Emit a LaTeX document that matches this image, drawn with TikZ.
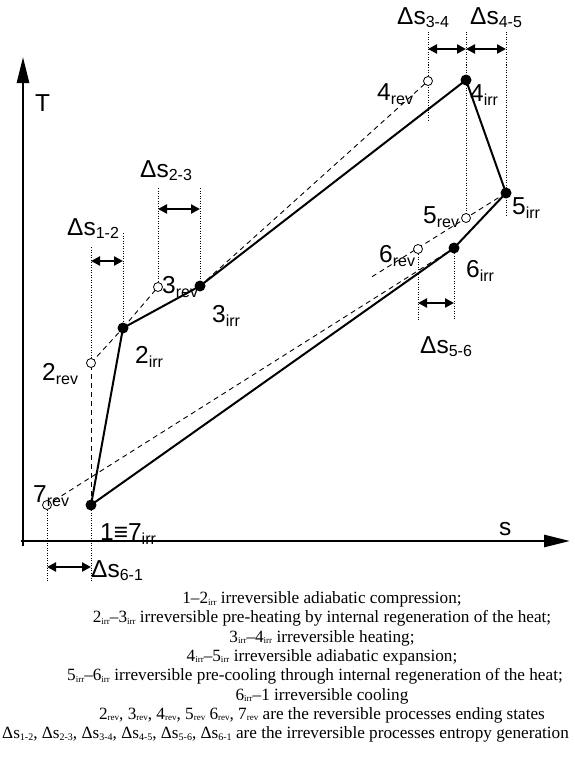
\documentclass[tikz,border=0pt]{standalone}
\usepackage{fontspec}
\setmainfont{Liberation Serif}
\newfontfamily\lsans{Liberation Sans}
\usetikzlibrary{arrows.meta}

\newcommand{\Lab}[2]{{\lsans\fontsize{24.5}{24.5}\selectfont #1\raisebox{-4pt}{\fontsize{16}{16}\selectfont #2}}}
\newcommand{\Dlab}[1]{{\lsans\fontsize{24.5}{24.5}\selectfont Δs\raisebox{-3pt}{\fontsize{16}{16}\selectfont #1}}}
\newcommand{\ci}{\raisebox{-1.5pt}{\fontsize{9}{9}\selectfont irr}}
\newcommand{\cv}{\raisebox{-1.5pt}{\fontsize{9}{9}\selectfont rev}}
\newcommand{\cs}[1]{Δs\raisebox{-1.5pt}{\fontsize{10}{10}\selectfont #1}}

\begin{document}
\begin{tikzpicture}[x=1pt,y=-1pt,
  proc/.style={line width=2pt},
  revline/.style={line width=0.9pt, dash pattern=on 5pt off 4pt},
  ext/.style={line width=0.8pt, dash pattern=on 1pt off 1.5pt},
  dsarrow/.style={line width=2.5pt, {Triangle[length=9pt,width=9pt]}-{Triangle[length=9pt,width=9pt]}},
  axisarrow/.style={line width=2.7pt, -{Triangle[length=26pt,width=12pt]}},
  fullpt/.style={circle, fill=black, inner sep=0pt, minimum size=11pt},
  openpt/.style={circle, draw, fill=white, line width=0.8pt, inner sep=0pt, minimum size=9pt},
  lbl/.style={anchor=base west, inner sep=0pt},
  captxt/.style={anchor=base, inner sep=0pt, font=\fontsize{17.2}{19}\selectfont}
]
\useasboundingbox (0,0) rectangle (575,760);

% axes
\coordinate (ob) at (23,546);
\coordinate (ot) at (23,57);
\coordinate (ol) at (21,541);
\coordinate (or) at (570,541);
\draw[axisarrow] (ob) -- (ot);
\draw[axisarrow] (ol) -- (or);
\node[lbl] (Tl) at (35,111) {\lsans\fontsize{24.5}{24.5}\selectfont T};
\node[lbl] (sl) at (499,535) {\lsans\fontsize{24.5}{24.5}\selectfont s};

% state points
\coordinate (p1) at (91,505);
\coordinate (p2i) at (123,328);
\coordinate (p2r) at (91,363);
\coordinate (p3r) at (158,287);
\coordinate (p3i) at (200,286);
\coordinate (p4r) at (428,81);
\coordinate (p4i) at (466,80);
\coordinate (p5i) at (506,193);
\coordinate (p5r) at (466,218);
\coordinate (p6r) at (418,249);
\coordinate (p6i) at (454,248);
\coordinate (p7r) at (47,505);
\coordinate (e56) at (370,278);

% extension line ends
\coordinate (a12t) at (91,247);
\coordinate (b12t) at (123,233);
\coordinate (a23t) at (158,188);
\coordinate (b23t) at (200,188);
\coordinate (a34t) at (428,32);
\coordinate (a34b) at (428,122);
\coordinate (b34t) at (466,32);
\coordinate (b45t) at (506,32);
\coordinate (b45b) at (506,217);
\coordinate (a56b) at (418,320);
\coordinate (b56b) at (454,320);
\coordinate (a61b) at (47,582);
\coordinate (b61b) at (91,582);

% dotted extension lines
\draw[ext] (a12t) -- (p2r);
\draw[ext] (b12t) -- (p2i);
\draw[ext] (a23t) -- (p3r);
\draw[ext] (b23t) -- (p3i);
\draw[ext] (a34t) -- (a34b);
\draw[ext] (b34t) -- (p4i);
\draw[ext] (p4i) -- (p5r);
\draw[ext] (b45t) -- (b45b);
\draw[ext] (p6r) -- (a56b);
\draw[ext] (p6i) -- (b56b);
\draw[ext] (p7r) -- (a61b);
\draw[ext] (p1) -- (b61b);

% reversible (dashed) processes
\draw[revline] (p1) -- (p2r);
\draw[revline] (p2r) -- (p2i);
\draw[revline] (p2i) -- (p3r);
\draw[revline] (p3i) -- (p4r);
\draw[revline] (p5i) -- (e56);
\draw[revline] (p6i) -- (p7r);

% irreversible cycle
\draw[proc] (p1) -- (p2i) -- (p3i) -- (p4i) -- (p5i) -- (p6i) -- cycle;

% entropy generation arrows
\coordinate (d12a) at (91,261);  \coordinate (d12b) at (123,261);
\coordinate (d23a) at (158,209); \coordinate (d23b) at (200,209);
\coordinate (d34a) at (428,49);  \coordinate (d34b) at (466,49);
\coordinate (d45a) at (466,49);  \coordinate (d45b) at (506,49);
\coordinate (d56a) at (418,303); \coordinate (d56b) at (454,303);
\coordinate (d61a) at (47,567);  \coordinate (d61b) at (91,567);
\draw[dsarrow] (d12a) -- (d12b);
\draw[dsarrow] (d23a) -- (d23b);
\draw[dsarrow] (d34a) -- (d34b);
\draw[dsarrow] (d45a) -- (d45b);
\draw[dsarrow] (d56a) -- (d56b);
\draw[dsarrow] (d61a) -- (d61b);

% markers
\node[fullpt] (n1) at (p1) {};
\node[fullpt] (n2i) at (p2i) {};
\node[fullpt] (n3i) at (p3i) {};
\node[fullpt] (n4i) at (p4i) {};
\node[fullpt] (n5i) at (p5i) {};
\node[fullpt] (n6i) at (p6i) {};
\node[openpt] (n2r) at (p2r) {};
\node[openpt] (n3r) at (p3r) {};
\node[openpt] (n4r) at (p4r) {};
\node[openpt] (n5r) at (p5r) {};
\node[openpt] (n6r) at (p6r) {};
\node[openpt] (n7r) at (p7r) {};

% point labels
\node[lbl] (l4r) at (377,100) {\Lab{4}{rev}};
\node[lbl] (l4i) at (470,101) {\Lab{4}{irr}};
\node[lbl] (l5i) at (512,214) {\Lab{5}{irr}};
\node[lbl] (l5r) at (423,223) {\Lab{5}{rev}};
\node[lbl] (l6r) at (379,262) {\Lab{6}{rev}};
\node[lbl] (l6i) at (466,277) {\Lab{6}{irr}};
\node[lbl] (l3r) at (162,293) {\Lab{3}{rev}};
\node[lbl] (l3i) at (212,322) {\Lab{3}{irr}};
\node[lbl] (l2i) at (135,363) {\Lab{2}{irr}};
\node[lbl] (l2r) at (42,380) {\Lab{2}{rev}};
\node[lbl] (l7r) at (33,502) {\Lab{7}{rev}};
\node[lbl] (l1) at (100,540) {\Lab{1≡7}{irr}};

% entropy generation labels
\node[lbl] (ds12) at (67,235) {\Dlab{1-2}};
\node[lbl] (ds23) at (140,177) {\Dlab{2-3}};
\node[lbl] (ds34) at (397,25) {\Dlab{3-4}};
\node[lbl] (ds45) at (470,25) {\Dlab{4-5}};
\node[lbl] (ds56) at (420,353) {\Dlab{5-6}};
\node[lbl] (ds61) at (91,577) {\Dlab{6-1}};

% caption
\node[captxt] (c1) at (322,603.5) {1–2\ci{} irreversible adiabatic compression;};
\node[captxt] (c2) at (322,622.8) {2\ci–3\ci{} irreversible pre-heating by internal regeneration of the heat;};
\node[captxt] (c3) at (322,642.1) {3\ci–4\ci{} irreversible heating;};
\node[captxt] (c4) at (322,661.4) {4\ci–5\ci{} irreversible adiabatic expansion;};
\node[captxt, anchor=base west] (c5) at (67,680.7) {5\ci–6\ci{} irreversible pre-cooling through internal regeneration of the heat;};
\node[captxt] (c6) at (322,700) {6\ci–1 irreversible cooling};
\node[captxt] (c7) at (322,719.3) {2\cv, 3\cv, 4\cv, 5\cv{} 6\cv, 7\cv{} are the reversible processes ending states};
\node[captxt, anchor=base west] (c8) at (2,738.6) {\cs{1-2}, \cs{2-3}, \cs{3-4}, \cs{4-5}, \cs{5-6}, \cs{6-1} are the irreversible processes entropy generation};
\end{tikzpicture}
\end{document}
